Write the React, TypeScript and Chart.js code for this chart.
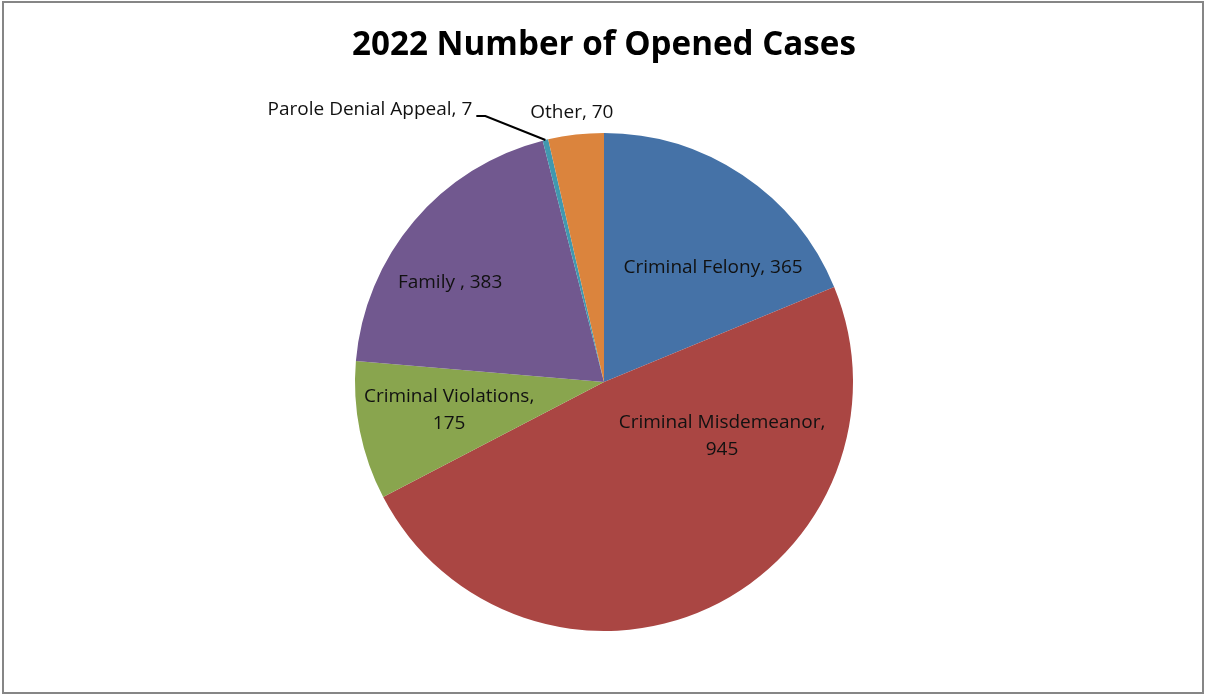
import React, { useEffect, useRef } from "react";
import { Chart, registerables } from "chart.js";

Chart.register(...registerables);

const TITLE = "2022 Number of Opened Cases";
const CATEGORIES = [
  "Criminal Felony",
  "Criminal Misdemeanor",
  "Criminal Violations",
  "Family ",
  "Parole Denial Appeal",
  "Other",
];
const VALUES = [365, 945, 175, 383, 7, 70];
const COLORS = ["#4572A7", "#AA4643", "#89A54E", "#71588F", "#4198AF", "#DB843D"];
// label line layout (text split), and position as fraction of radius from the pie centre
const LABEL_LINES = [
  ["Criminal Felony, 365"],
  ["Criminal Misdemeanor,", "945"],
  ["Criminal Violations,", "175"],
  ["Family , 383"],
  ["Parole Denial Appeal, 7"],
  ["Other, 70"],
];
const LABEL_POS = [
  [0.438, -0.458],
  [0.474, 0.217],
  [-0.622, 0.112],
  [-0.618, -0.398],
  [-0.94, -1.096],
  [-0.129, -1.08],
];

const FONT = '"Open Sans", "Liberation Sans", sans-serif';

const overlay = {
  id: "overlay",
  afterDraw(chart: any) {
    const ctx = chart.ctx as CanvasRenderingContext2D;
    const W = chart.width;
    const H = chart.height;
    ctx.save();
    // frame
    ctx.strokeStyle = "#868686";
    ctx.lineWidth = 2;
    ctx.strokeRect(3, 2, W - 5, H - 3);
    // title
    ctx.fillStyle = "#000";
    ctx.textAlign = "center";
    ctx.textBaseline = "alphabetic";
    let size = 30;
    ctx.font = `bold ${size}px ${FONT}`;
    const tw = ctx.measureText(TITLE).width;
    size = size * (504 / tw);
    ctx.font = `bold ${size}px ${FONT}`;
    ctx.fillText(TITLE, 604, 55);

    const meta = chart.getDatasetMeta(0);
    const arc0 = meta.data[0];
    const cx = arc0.x;
    const cy = arc0.y;
    const r = arc0.outerRadius;
    ctx.font = `19px ${FONT}`;
    ctx.fillStyle = "#111";
    ctx.textBaseline = "middle";
    const lh = 27;
    LABEL_LINES.forEach((lines, i) => {
      const x = cx + LABEL_POS[i][0] * r;
      const y = cy + LABEL_POS[i][1] * r;
      const y0 = y - ((lines.length - 1) * lh) / 2;
      lines.forEach((t, j) => ctx.fillText(t, x, y0 + j * lh));
    });
    // leader line for Parole Denial Appeal
    const pi = 4;
    const a = meta.data[pi];
    const mid = (a.startAngle + a.endAngle) / 2;
    const ex = cx + Math.cos(mid) * r;
    const ey = cy + Math.sin(mid) * r;
    const lx = cx + LABEL_POS[pi][0] * r;
    const ly = cy + LABEL_POS[pi][1] * r;
    const w = ctx.measureText(LABEL_LINES[pi][0]).width;
    const sx = lx + w / 2 + 4;
    const sy = ly + 7;
    ctx.strokeStyle = "#000";
    ctx.lineWidth = 2;
    ctx.beginPath();
    ctx.moveTo(sx, sy);
    ctx.lineTo(sx + 9, sy);
    ctx.lineTo(ex, ey);
    ctx.stroke();
    ctx.restore();
  },
};

export default function App() {
  const ref = useRef<HTMLCanvasElement>(null);
  useEffect(() => {
    if (!ref.current) return;
    const chart = new Chart(ref.current, {
      type: "pie",
      data: {
        labels: CATEGORIES,
        datasets: [
          {
            data: VALUES,
            backgroundColor: COLORS,
            borderWidth: 0,
          },
        ],
      },
      options: {
        responsive: false,
        animation: false,
        layout: { padding: { left: 355, right: 352, top: 133, bottom: 63 } },
        plugins: {
          legend: { display: false },
          tooltip: { enabled: false },
          title: { display: false },
        },
      },
      plugins: [overlay],
    });
    return () => chart.destroy();
  }, []);
  return (
    <div style={{ position: "absolute", left: 0, top: 0, width: 1205, height: 694, background: "#fff" }}>
      <canvas ref={ref} width={1205} height={694} />
    </div>
  );
}
